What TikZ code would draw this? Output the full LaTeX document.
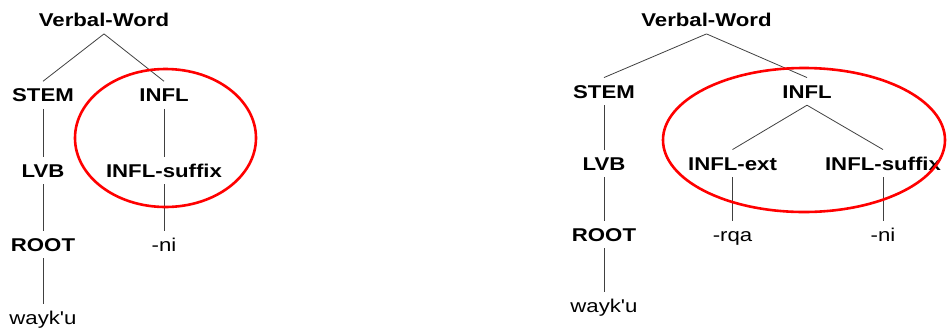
\documentclass[tikz,border=0pt]{standalone}
\usepackage{fontspec}
\setmainfont[FakeStretch=1.2]{Liberation Sans}
\newfontfamily\plainfont[FakeStretch=1.2,Ligatures=ResetAll]{Liberation Sans}
\begin{document}
\begin{tikzpicture}[x=1pt,y=-1pt,
  lab/.style={inner xsep=0pt, inner ysep=7pt, text height=13.25pt, text depth=0pt, anchor=base, font=\fontsize{18.5}{22}\selectfont\bfseries},
  leaf/.style={lab, font=\fontsize{18.5}{22}\selectfont},
  edge/.style={draw=black!75, line width=0.8pt},
  ring/.style={draw=red, line width=2.6pt}]
\useasboundingbox (0,0) rectangle (947,333);
% left tree
\node[lab] (vw1) at (104,26.7) {Verbal-Word};
\node[lab] (stem1) at (43,101.7) {STEM};
\node[lab] (infl1) at (164,101.7) {INFL};
\node[lab] (lvb1) at (43,177) {LVB};
\node[lab] (sfx1) at (164,177) {INFL-suffix};
\node[lab] (root1) at (43,251) {ROOT};
\node[leaf] (ni1) at (164,251) {-ni};
\node[leaf] (w1) at (43,324) {\plainfont wayk'u};
\draw[edge] (vw1.south) -- (stem1.north);
\draw[edge] (vw1.south) -- (infl1.north);
\draw[edge] (stem1.south) -- (lvb1.north);
\draw[edge] (lvb1.south) -- (root1.north);
\draw[edge] (root1.south) -- (w1.north);
\draw[edge] (infl1.south) -- (sfx1.north);
\draw[edge] (sfx1.south) -- (ni1.north);
\draw[ring] (165.5,138) ellipse [x radius=90.5, y radius=69];
% right tree
\node[lab] (vw2) at (706.5,26.7) {Verbal-Word};
\node[lab] (stem2) at (604,98) {STEM};
\node[lab] (infl2) at (807,98) {INFL};
\node[lab] (lvb2) at (604,170) {LVB};
\node[lab] (ext2) at (732.5,170) {INFL-ext};
\node[lab] (sfx2) at (883,170) {INFL-suffix};
\node[lab] (root2) at (604,241) {ROOT};
\node[leaf] (rqa2) at (732.5,241) {-rqa};
\node[leaf] (ni2) at (883,241) {-ni};
\node[leaf] (w2) at (604,312) {\plainfont wayk'u};
\draw[edge] (vw2.south) -- (stem2.north);
\draw[edge] (vw2.south) -- (infl2.north);
\draw[edge] (stem2.south) -- (lvb2.north);
\draw[edge] (lvb2.south) -- (root2.north);
\draw[edge] (root2.south) -- (w2.north);
\draw[edge] (infl2.south) -- (ext2.north);
\draw[edge] (infl2.south) -- (sfx2.north);
\draw[edge] (ext2.south) -- (rqa2.north);
\draw[edge] (sfx2.south) -- (ni2.north);
\draw[ring] (804,140) ellipse [x radius=141, y radius=72];
\end{tikzpicture}
\end{document}
